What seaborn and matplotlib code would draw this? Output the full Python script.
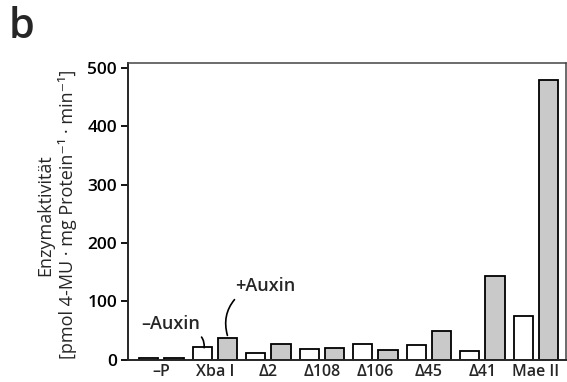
import seaborn as sns
import pandas as pd
import matplotlib.pyplot as plt

# values (pmol 4-MU / mg protein / min)
konstrukte = ['\u2013P', 'Xba I', '\u03942', '\u0394108', '\u0394106', '\u039445', '\u039441', 'Mae II']
ohne_auxin = [3, 23, 12, 19, 27, 26, 15, 76]
mit_auxin = [3, 37, 27, 20, 17, 50, 143, 479]

df = pd.DataFrame({
    'konstrukt': konstrukte * 2,
    'wert': ohne_auxin + mit_auxin,
    'auxin': ['-Auxin'] * len(konstrukte) + ['+Auxin'] * len(konstrukte),
})

sns.set_style('ticks')
plt.rcParams['font.family'] = ['Open Sans', 'DejaVu Sans']
plt.rcParams['font.weight'] = 'semibold'

fig = plt.figure(figsize=(5.67, 3.82), dpi=100)
ax = fig.add_axes([0.226, 0.0576, 0.772, 0.7764])

sns.barplot(data=df, x='konstrukt', y='wert', hue='auxin',
            palette=['white', '#c9c9c9'], edgecolor='black', linewidth=1.3,
            width=0.94, gap=0.23, legend=False, ax=ax)

ax.set_xlim(-0.62, 7.56)
ax.set_ylim(0, 507)
ax.set_yticks([0, 100, 200, 300, 400, 500])
ax.tick_params(axis='y', labelsize=12.5, length=5, width=1.3, colors='black', pad=3)
ax.tick_params(axis='x', labelsize=11.5, length=0, pad=3)
for s in ['left', 'bottom']:
    ax.spines[s].set_linewidth(1.4)
for s in ['top', 'right']:
    ax.spines[s].set_linewidth(1.1)
    ax.spines[s].set_color('#444444')

ax.set_xlabel('')
ax.set_ylabel('Enzymaktivit\u00e4t\n[pmol 4-MU \u00b7 mg Protein\u207b\u00b9 \u00b7 min\u207b\u00b9]',
              fontsize=13, linespacing=1.25)
ax.yaxis.set_label_coords(-0.117, 0.49)

ax.annotate('\u2013Auxin', xy=(0.80, 21), xytext=(0.17, 62),
            ha='center', va='center', fontsize=13,
            arrowprops=dict(arrowstyle='-', lw=1.2, color='black',
                            shrinkA=1, shrinkB=0, relpos=(0.95, 0),
                            connectionstyle='arc3,rad=-0.3'))
ax.annotate('+Auxin', xy=(1.235, 42), xytext=(1.95, 126),
            ha='center', va='center', fontsize=13,
            arrowprops=dict(arrowstyle='-', lw=1.2, color='black',
                            shrinkA=1, shrinkB=0, relpos=(0.05, 0),
                            connectionstyle='arc3,rad=0.3'))

fig.text(0.015, 0.985, 'b', fontsize=30, va='top', ha='left')

plt.savefig('out.png', dpi=100)
